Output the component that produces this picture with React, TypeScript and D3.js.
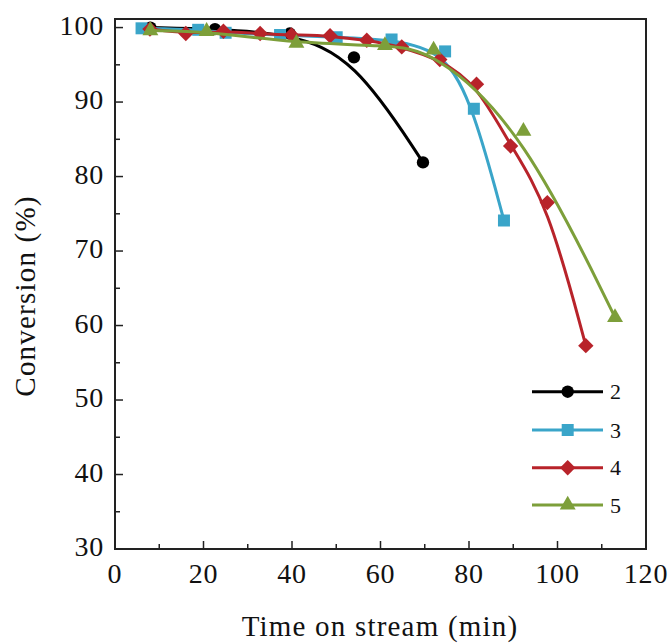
import React from "react";
import * as d3 from "d3";

// ---- data ----
const seriesNames = ["2", "3", "4", "5"];
const seriesColors = ["#000000", "#3aa5c9", "#b8232a", "#7d9f3a"];
const seriesSymbols = ["circle", "square", "diamond", "triangle"];

const s2Time = [8, 22.6, 39.5, 54, 69.6];
const s2Conv = [100, 99.8, 99.2, 96.0, 81.9];

const s3Time = [6, 18.8, 25, 37.3, 50.1, 62.5, 74.6, 81.1, 87.9];
const s3Conv = [99.9, 99.7, 99.3, 99.0, 98.7, 98.4, 96.8, 89.1, 74.1];

const s4Time = [7.9, 16, 24.5, 32.8, 39.9, 48.6, 56.9, 64.8, 73.4, 81.7, 89.4, 97.7, 106.4];
const s4Conv = [99.8, 99.2, 99.5, 99.2, 99.0, 98.9, 98.3, 97.4, 95.7, 92.4, 84.1, 76.5, 57.3];

const s5Time = [8, 20.7, 41, 61, 72, 92.3, 113];
const s5Conv = [99.6, 99.5, 97.9, 97.6, 97.0, 86.1, 61.1];

const xMajorTicks = [0, 20, 40, 60, 80, 100, 120];
const xMinorTicks = [10, 30, 50, 70, 90, 110];
const yMajorTicks = [30, 40, 50, 60, 70, 80, 90, 100];
const yMinorTicks = [35, 45, 55, 65, 75, 85, 95];

const xTitle = "Time on stream (min)";
const yTitle = "Conversion (%)";

const allSeries = [
  { t: s2Time, v: s2Conv },
  { t: s3Time, v: s3Conv },
  { t: s4Time, v: s4Conv },
  { t: s5Time, v: s5Conv },
];

const W = 672;
const H = 644;
const L = 115, R = 646, T = 19, B = 549;
const FONT = "Liberation Serif";
const txt = { fontFamily: FONT };

function symbolPath(kind: string): string {
  if (kind === "circle") return d3.symbol(d3.symbolCircle, 120)() as string;
  if (kind === "square") return d3.symbol(d3.symbolSquare, 144)() as string;
  if (kind === "diamond") return d3.symbol(d3.symbolSquare, 118)() as string;
  return d3.symbol(d3.symbolTriangle, 110)() as string;
}

export default function App() {
  const x = d3.scaleLinear().domain([0, 120]).range([L, R]);
  const y = d3.scaleLinear().domain([30, 101.15]).range([B, T]);

  const line = d3
    .line<[number, number]>()
    .x((d) => x(d[0]))
    .y((d) => y(d[1]))
    .curve(d3.curveBasis);

  const legendY = [391.7, 430, 467.7, 505];

  return (
    <svg
      width={W}
      height={H}
      style={{ position: "absolute", left: 0, top: 0, background: "#fff" }}
    >
      <rect x={0} y={0} width={W} height={H} fill="#fff" />
      {/* series */}
      {allSeries.map((s, i) => {
        const pts: [number, number][] = s.t.map((t, k) => [t, s.v[k]]);
        const sym = symbolPath(seriesSymbols[i]);
        const rot = seriesSymbols[i] === "diamond" ? 45 : 0;
        return (
          <g key={i}>
            <path d={line(pts) as string} fill="none" stroke={seriesColors[i]} strokeWidth={3} />
            {pts.map((p, k) => (
              <path
                key={k}
                d={sym}
                fill={seriesColors[i]}
                transform={`translate(${x(p[0])},${y(p[1])}) rotate(${rot})`}
              />
            ))}
          </g>
        );
      })}

      {/* frame */}
      <rect x={L} y={T} width={R - L} height={B - T} fill="none" stroke="#222" strokeWidth={2} />

      {/* x ticks */}
      {xMajorTicks.map((t) => (
        <g key={"xm" + t}>
          <line x1={x(t)} x2={x(t)} y1={B} y2={B - 8} stroke="#222" strokeWidth={1.5} />
          <text x={x(t)} y={583} textAnchor="middle" fontSize={28} fill="#111" letterSpacing={0.8} style={txt}>
            {t}
          </text>
        </g>
      ))}
      {xMinorTicks.map((t) => (
        <line key={"xn" + t} x1={x(t)} x2={x(t)} y1={B} y2={B - 5} stroke="#222" strokeWidth={1.5} />
      ))}

      {/* y ticks */}
      {yMajorTicks.map((t) => (
        <g key={"ym" + t}>
          <line x1={L} x2={L + 8} y1={y(t)} y2={y(t)} stroke="#222" strokeWidth={1.5} />
          <text
            x={104}
            y={y(t) + 7}
            textAnchor="end"
            fontSize={28}
            fill="#111"
            letterSpacing={0.8}
            style={txt}
          >
            {t}
          </text>
        </g>
      ))}
      {yMinorTicks.map((t) => (
        <line key={"yn" + t} x1={L} x2={L + 5} y1={y(t)} y2={y(t)} stroke="#222" strokeWidth={1.5} />
      ))}

      {/* axis titles */}
      <text x={380} y={636} textAnchor="middle" fontSize={29} fill="#111" letterSpacing={1.2} style={txt}>
        {xTitle}
      </text>
      <text
        transform={`translate(35,296) rotate(-90)`}
        textAnchor="middle"
        fontSize={29}
        fill="#111"
        letterSpacing={1.2}
        style={txt}
      >
        {yTitle}
      </text>

      {/* legend */}
      {seriesNames.map((n, i) => {
        const ly = legendY[i];
        const rot = seriesSymbols[i] === "diamond" ? 45 : 0;
        return (
          <g key={"lg" + n}>
            <line x1={532} x2={603} y1={ly} y2={ly} stroke={seriesColors[i]} strokeWidth={3} />
            <path
              d={symbolPath(seriesSymbols[i])}
              fill={seriesColors[i]}
              transform={`translate(567.7,${ly}) rotate(${rot})`}
            />
            <text x={610} y={ly + 7.5} fontSize={22} fill="#111" style={txt}>
              {n}
            </text>
          </g>
        );
      })}
    </svg>
  );
}
